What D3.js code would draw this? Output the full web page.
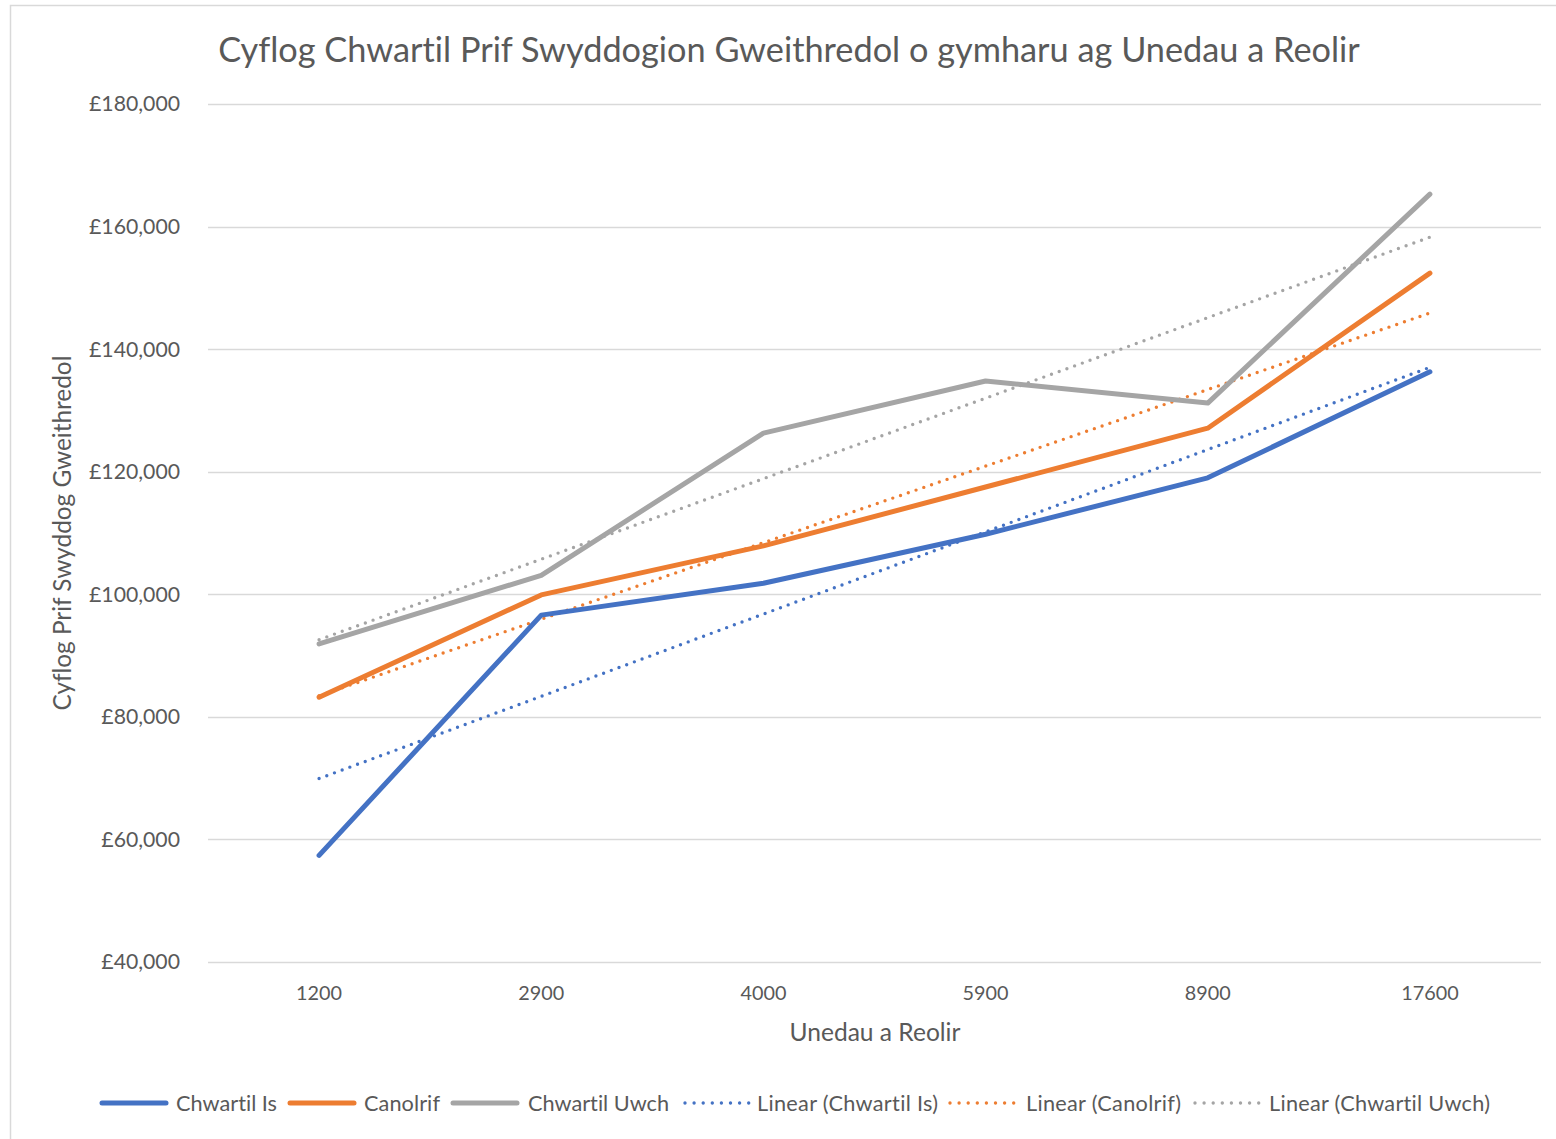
<!DOCTYPE html>
<html><head><meta charset="utf-8">
<script src="https://cdn.jsdelivr.net/npm/d3@7"></script>
<style>body{margin:0;background:#fff}svg{display:block}text{font-family:Lato,"Open Sans",sans-serif;fill:#595959;font-variant-ligatures:none;font-feature-settings:"liga" 0,"clig" 0}</style>
</head><body>
<script>
const categories = ["1200","2900","4000","5900","8900","17600"];
const chwartilIs = [57400, 96600, 101800, 109800, 119000, 136300];
const canolrif = [83200, 99900, 107900, 117500, 127100, 152400];
const chwartilUwch = [91900, 103100, 126300, 134800, 131200, 165300];
const yTicks = [40000, 60000, 80000, 100000, 120000, 140000, 160000, 180000];
const seriesNames = ["Chwartil Is", "Canolrif", "Chwartil Uwch"];
const colors = ["#4472C4", "#ED7D31", "#A5A5A5"];
const title = "Cyflog Chwartil Prif Swyddogion Gweithredol o gymharu ag Unedau a Reolir";
const xTitle = "Unedau a Reolir";
const yTitle = "Cyflog Prif Swyddog Gweithredol";

const W = 1556, H = 1139;
const svg = d3.select("body").append("svg").attr("width", W).attr("height", H);
svg.append("rect").attr("x",10.5).attr("y",5.5).attr("width",1570).attr("height",1145)
  .attr("fill","#fff").attr("stroke","#D9D9D9").attr("stroke-width",1.5);

const x = d3.scalePoint().domain(categories).range([208, 1541]).padding(0.5);
const y = d3.scaleLinear().domain([40000, 180000]).range([962, 104]);

function fit(sel, target){
  sel.style("font-size","100px");
  const w = sel.node().getComputedTextLength();
  const fs = 100*target/w;
  sel.style("font-size", fs+"px");
  return fs;
}

// gridlines
svg.append("g").selectAll("line").data(yTicks).join("line")
  .attr("x1",208).attr("x2",1541).attr("y1",d=>Math.round(y(d))+0.5).attr("y2",d=>Math.round(y(d))+0.5)
  .attr("stroke","#D9D9D9").attr("stroke-width",1.5);

// y axis labels
const fmt = d => "£" + d3.format(",")(d);
const yl = svg.append("g").selectAll("text").data(yTicks).join("text")
  .attr("x",180).attr("y",d=>y(d)).attr("dy","0.35em").attr("text-anchor","end").text(fmt);
const tmp = svg.append("text").text(fmt(180000));
const yfs = fit(tmp, 91); tmp.remove();
yl.style("font-size", yfs+"px");

// x axis labels
const xl = svg.append("g").selectAll("text").data(categories).join("text")
  .attr("x",d=>x(d)).attr("y",993).attr("dy","0.35em").attr("text-anchor","middle").text(d=>d);
const tmp2 = svg.append("text").text("1200");
const xfs = fit(tmp2, 46); tmp2.remove();
xl.style("font-size", xfs+"px");

// titles
const t = svg.append("text").attr("x",789).attr("y",50).attr("dy","0.35em").attr("text-anchor","middle").text(title);
fit(t, 1142);
const xt = svg.append("text").attr("x",875).attr("y",1032).attr("dy","0.35em").attr("text-anchor","middle").text(xTitle);
fit(xt, 171);
const yt = svg.append("text").attr("transform","translate(62,533) rotate(-90)").attr("dy","0.35em").attr("text-anchor","middle").text(yTitle);
fit(yt, 355);

const data = [chwartilIs, canolrif, chwartilUwch];
const line = d3.line().x((d,i)=>x(categories[i])).y(d=>y(d));

// trendlines (least squares, like Excel's linear trendline)
function trend(vals){
  const n = vals.length, xs = vals.map((v,i)=>i+1);
  const mx = d3.mean(xs), my = d3.mean(vals);
  const b = d3.sum(xs.map((xi,i)=>(xi-mx)*(vals[i]-my))) / d3.sum(xs.map(xi=>(xi-mx)**2));
  const a = my - b*mx;
  return [a + b*1, a + b*n];
}
const gT = svg.append("g");
data.forEach((vals,k)=>{
  const [v0,v1] = trend(vals);
  gT.append("line").attr("x1",x(categories[0])).attr("x2",x(categories[categories.length-1]))
    .attr("y1",y(v0)).attr("y2",y(v1)).attr("stroke",colors[k]).attr("stroke-width",3.4)
    .attr("stroke-linecap","round").attr("stroke-dasharray","0 8.2");
});

// series lines
const gL = svg.append("g");
data.forEach((vals,k)=>{
  gL.append("path").attr("d",line(vals)).attr("fill","none").attr("stroke",colors[k])
    .attr("stroke-width",5).attr("stroke-linejoin","round").attr("stroke-linecap","round");
});

// legend
const legendItems = [
  {name:"Chwartil Is", c:colors[0], dot:false, x0:100, tx:176, tw:101},
  {name:"Canolrif", c:colors[1], dot:false, x0:288, tx:364, tw:76},
  {name:"Chwartil Uwch", c:colors[2], dot:false, x0:451, tx:528, tw:141},
  {name:"Linear (Chwartil Is)", c:colors[0], dot:true, x0:683, tx:757, tw:181},
  {name:"Linear (Canolrif)", c:colors[1], dot:true, x0:948, tx:1026, tw:155},
  {name:"Linear (Chwartil Uwch)", c:colors[2], dot:true, x0:1193, tx:1269, tw:221}
];
const ly = 1103;
const lg = svg.append("g");
const tmp3 = svg.append("text").text("Chwartil Is");
const lfs = fit(tmp3, 101); tmp3.remove();
legendItems.forEach(it=>{
  const g = lg.append("g");
  g.append("line").attr("x1",it.x0+2).attr("x2",it.x0+66).attr("y1",ly).attr("y2",ly)
    .attr("stroke",it.c).attr("stroke-width",it.dot?3.4:5).attr("stroke-linecap","round")
    .attr("stroke-dasharray",it.dot?"0 9.1":null);
  g.append("text").attr("x",it.tx).attr("y",ly).attr("dy","0.35em").style("font-size",lfs+"px")
    .attr("textLength", it.tw).attr("lengthAdjust","spacing").text(it.name);
});
</script>
</body></html>
